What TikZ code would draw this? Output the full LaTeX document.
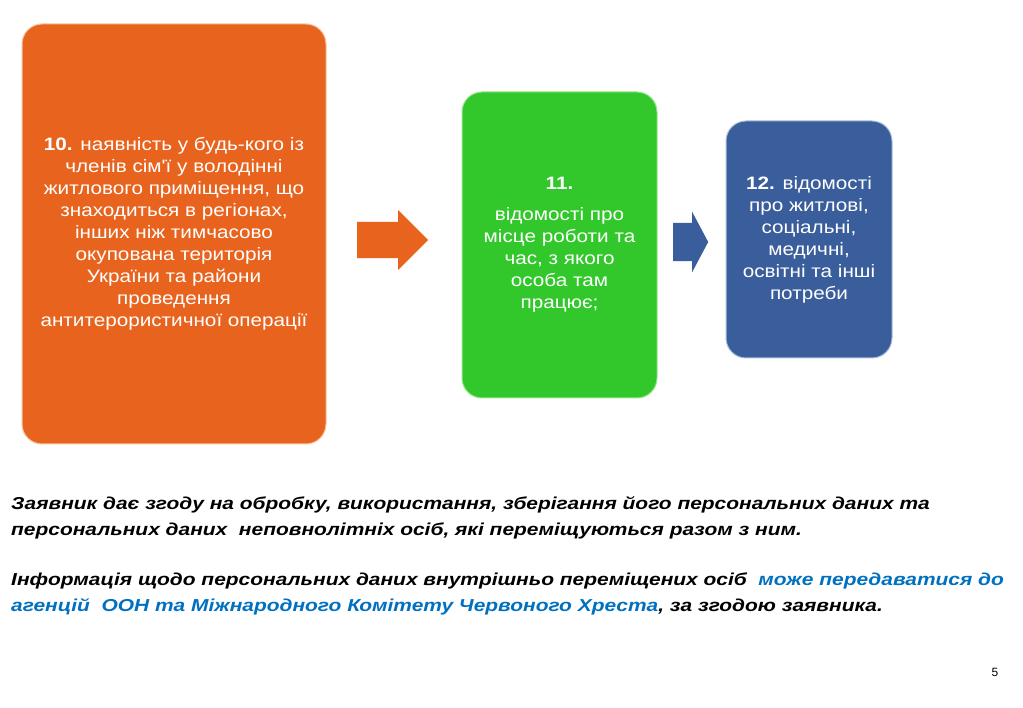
\documentclass[tikz,border=0pt]{standalone}
\usepackage{fontspec}
\setmainfont{Liberation Sans}
\newfontfamily\boxfont{Liberation Sans}[FakeStretch=1.15]
\newfontfamily\notefont{Liberation Sans}[FakeStretch=1.21]
\usepackage{tikz}
\usetikzlibrary{shapes.arrows}
\definecolor{orng}{RGB}{232,100,30}
\definecolor{orngline}{RGB}{248,196,160}
\definecolor{grn}{RGB}{50,200,44}
\definecolor{grnline}{RGB}{150,230,140}
\definecolor{blu}{RGB}{58,94,155}
\definecolor{bluline}{RGB}{170,190,220}
\definecolor{lnk}{RGB}{0,112,192}

\begin{document}
\begin{tikzpicture}[x=1pt, y=-1pt,
    box/.style={shape=rectangle, rounded corners=20pt, line width=1pt, text=white, align=center, inner sep=0pt, font=\boxfont\fontsize{18}{22}\selectfont},
    blockarrow/.style={shape=single arrow, anchor=tail, inner xsep=0pt, minimum width=60pt},
    note/.style={anchor=base west, align=left, inner sep=0pt, font=\notefont\fontsize{17.3}{26}\selectfont\bfseries\itshape}]
    \useasboundingbox (0,0) rectangle (1023,708);
        \node[box, fill=orng, draw=orngline, minimum width=304pt, minimum height=420pt] (B10) at (174, 234) {\textbf{10.} наявність у будь-кого із\\членів сім'ї у володінні\\житлового приміщення, що\\знаходиться в регіонах,\\інших ніж тимчасово\\окупована територія\\України та райони\\проведення\\антитерористичної операції};
        \node[box, fill=grn, draw=grnline, minimum width=195pt, minimum height=306pt] (B11) at (559.5, 245) {\textbf{11.}\\[9pt]відомості про\\місце роботи та\\час, з якого\\особа там\\працює;};
        \node[box, fill=blu, draw=bluline, minimum width=166pt, minimum height=237pt] (B12) at (809, 239.5) {\textbf{12.} відомості\\про житлові,\\соціальні,\\медичні,\\освітні та інші\\потреби};
        \node[blockarrow, fill=orng, inner ysep=18pt, single arrow head extend=12pt, minimum height=71pt, single arrow tip angle=90] (R1) at (357, 240) {};
        \node[blockarrow, fill=blu, inner ysep=19pt, single arrow head extend=11pt, minimum height=35pt, single arrow tip angle=124] (R2) at (673, 242) {};
        \node[note] (T1) at (11, 535) {Заявник дає згоду на обробку, використання, зберігання його персональних даних та\\персональних даних~ неповнолітніх осіб, які переміщуються разом з ним.};
        \node[note] (T2) at (11, 611) {Інформація щодо персональних даних внутрішньо переміщених осіб~ \textcolor{lnk}{може передаватися до}\\\textcolor{lnk}{агенцій~ ООН та Міжнародного Комітету Червоного Хреста}, за згодою заявника.};
        \node[anchor=base, inner sep=0pt, font=\fontsize{12}{14}\selectfont] (P5) at (995, 676) {5};
    \end{tikzpicture}
\end{document}
